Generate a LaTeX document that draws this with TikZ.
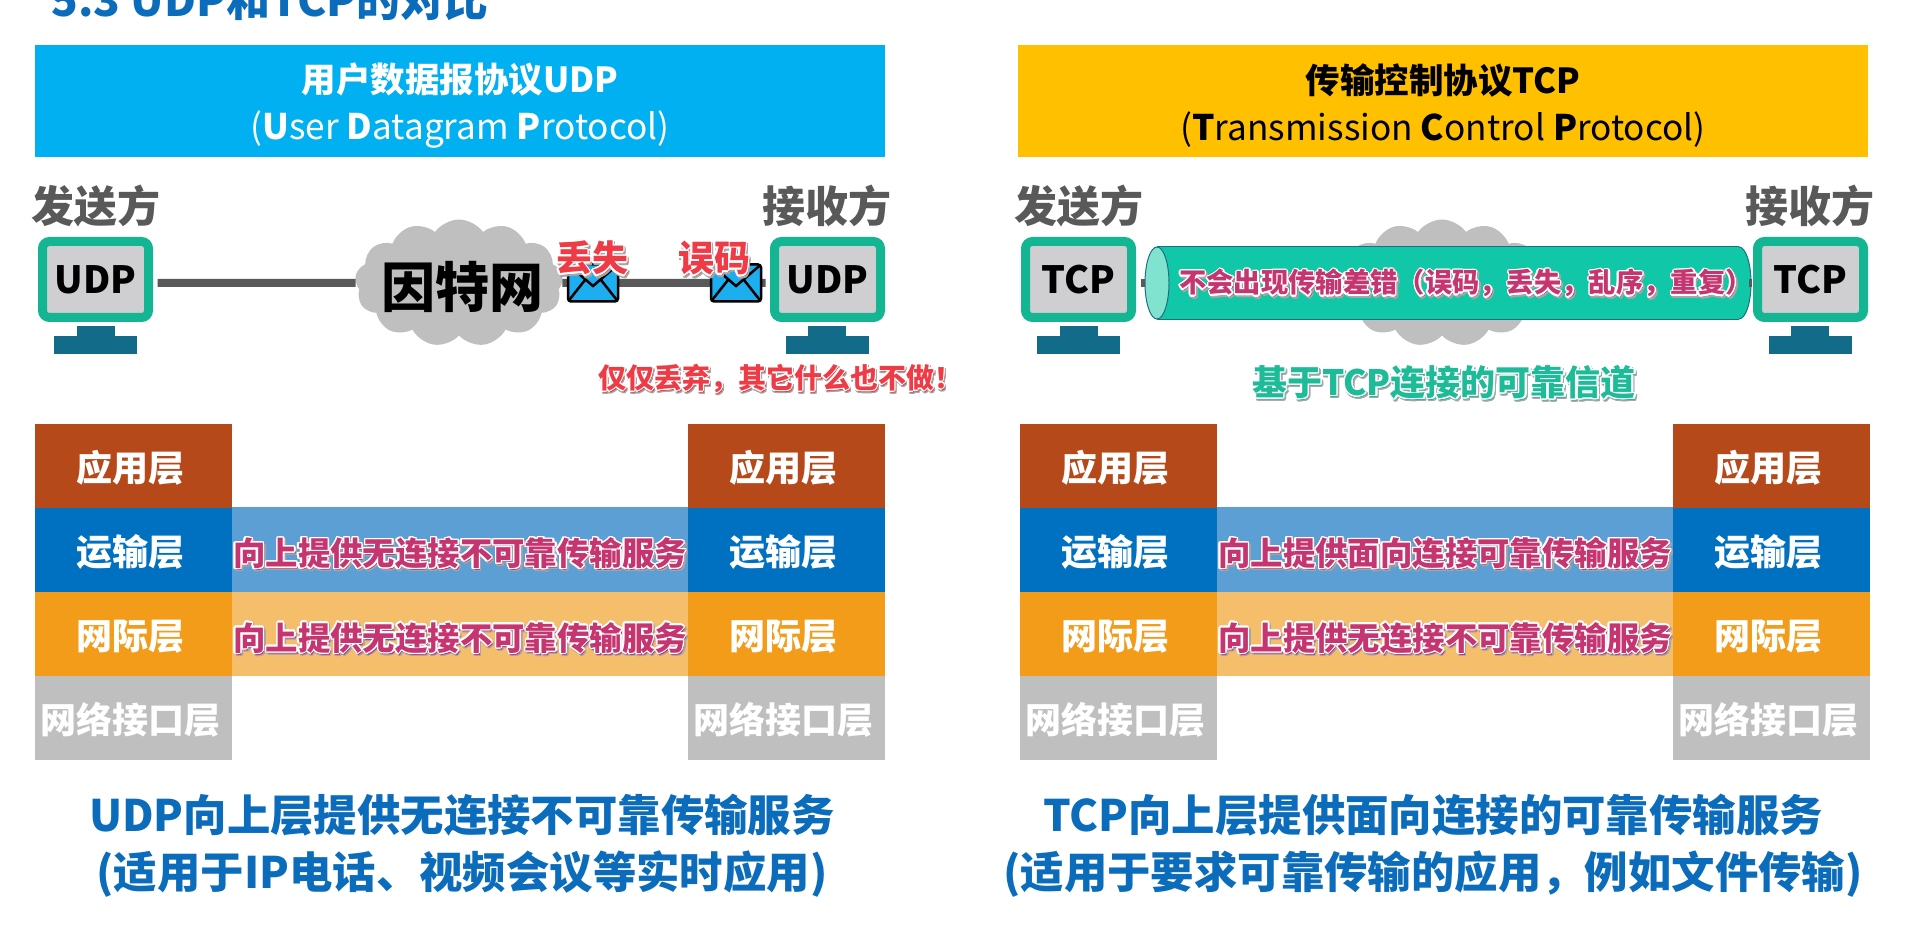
\documentclass[tikz,border=0pt]{standalone}
\usepackage{fontspec}
\setmainfont{Noto Sans CJK SC}
\usepackage[copies]{contour}
\usetikzlibrary{shapes.symbols,shapes.geometric}
\contourlength{1.4pt}
\definecolor{cudp}{HTML}{00B0F0}
\definecolor{ctcp}{HTML}{FFC000}
\definecolor{cmon}{HTML}{14B592}
\definecolor{cscr}{HTML}{CFCFD2}
\definecolor{cstand}{HTML}{126B88}
\definecolor{cwire}{HTML}{595959}
\definecolor{ccloud}{HTML}{BFBFBF}
\definecolor{cmail}{HTML}{1CAEEF}
\definecolor{cred}{HTML}{EE3B45}
\definecolor{cpink}{HTML}{C5356F}
\definecolor{cpipe}{HTML}{10C8A8}
\definecolor{cpipel}{HTML}{7FE3CF}
\definecolor{cpiped}{HTML}{1F6F7F}
\definecolor{capp}{HTML}{B5491A}
\definecolor{ctra}{HTML}{0070C0}
\definecolor{cnet}{HTML}{F39C1A}
\definecolor{clnk}{HTML}{BFBFBF}
\definecolor{cband}{HTML}{5B9FD5}
\definecolor{cbando}{HTML}{F5BE6A}
\definecolor{cfoot}{HTML}{0B6CBB}
\definecolor{cgreen}{HTML}{1DBB97}
\newcommand{\sz}[1]{\fontsize{#1}{#1}\selectfont\bfseries}
\newcommand{\halo}[1]{\rlap{\raisebox{-2pt}{\hspace{1.5pt}\contour{black!35}{#1}}}\contour{white}{#1}}

\begin{document}
\begin{tikzpicture}[
  x=1pt, y=-1pt,
  header/.style={minimum width=850pt, minimum height=112pt, inner sep=0pt, align=center,
                 text height=86pt, font=\fontsize{34.5}{47}\selectfont},
  side/.style={text=cwire, font=\sz{43}, inner sep=0pt},
  screen/.style={draw=cmon, fill=cscr, line width=9pt, rounded corners=7pt, minimum width=106pt,
                 minimum height=76pt, inner sep=0pt, font=\sz{37.5}},
  neck/.style={fill=cstand, minimum width=38pt, minimum height=12pt, inner sep=0pt},
  foot/.style={fill=cstand, minimum width=83pt, minimum height=18pt, inner sep=0pt},
  wire/.style={draw=cwire, line width=8pt},
  net/.style={cloud, cloud puffs=13, cloud puff arc=110, aspect=1.7, fill=ccloud, inner sep=0pt,
              minimum width=208pt, minimum height=127pt},
  mail/.style={draw=black, fill=cmail, line width=2.5pt, rounded corners=3pt, minimum width=50pt,
               minimum height=37pt, inner sep=0pt,
               path picture={\draw[line width=2.5pt, sharp corners]
                 (path picture bounding box.north west) -- ([yshift=-3pt]path picture bounding box.center)
                 -- (path picture bounding box.north east)
                 (path picture bounding box.south west) -- ([xshift=-8pt,yshift=3pt]path picture bounding box.center)
                 (path picture bounding box.south east) -- ([xshift=8pt,yshift=3pt]path picture bounding box.center);}},
  pipecap/.style={ellipse, draw=cpiped, line width=1pt, inner sep=0pt, minimum width=24pt, minimum height=72pt},
  layer/.style={minimum width=197pt, minimum height=84pt, inner sep=0pt, text=white, font=\sz{36},
                text height=34pt, text depth=3pt, execute at begin node=\hspace*{-7pt}},
  band/.style={minimum width=#1, minimum height=84.5pt, inner sep=0pt, text=cpink, font=\sz{32.4},
               text height=35pt, text depth=3pt},
  warn/.style={text=cred, inner sep=0pt},
  foottext/.style={text=cfoot, inner sep=0pt, align=center, font=\fontsize{43.4}{57}\selectfont\bfseries},
]
\useasboundingbox (0,0) rectangle (1920,925);

% ------------------------------------------------------------ title
\node[text=cfoot, inner sep=0pt, font=\sz{44}] (title) at (270,0) {5.3 UDP和TCP的对比};

% ------------------------------------------------------------ headers
\node[header, fill=cudp, text=white] (udphead) at (460,101) {%
  {\bfseries 用户数据报协议UDP}\\ {\fontsize{35.2}{47}\selectfont ({\bfseries U}ser {\bfseries D}atagram {\bfseries P}rotocol)}};
\node[header, fill=ctcp, text=black] (tcphead) at (1443,101) {%
  {\bfseries 传输控制协议TCP}\\ {\fontsize{35.2}{47}\selectfont ({\bfseries T}ransmission {\bfseries C}ontrol {\bfseries P}rotocol)}};

% ------------------------------------------------------------ udp channel
\node[side] (udpsend) at (96,206) {发送方};
\node[side] (udprecv) at (827,206) {接收方};
\node[net] (inet) at (459,283) {};
\node[screen] (udpa) at (95.5,279.5) {UDP};
\node[screen] (udpb) at (827.5,279.5) {UDP};
\node[neck] (udpaneck) at (96,332) {};
\node[foot] (udpafoot) at (95.5,345.5) {};
\node[neck] (udpbneck) at (827,332) {};
\node[foot] (udpbfoot) at (827.5,345.5) {};
\draw[wire] ([xshift=4.5pt,yshift=-3.5pt]udpa.east) -- (inet.west);
\draw[wire] (inet.east) -- ([xshift=-4.5pt,yshift=-3.5pt]udpb.west);
\node[text=black, inner sep=0pt, font=\sz{54}] (inettext) at (462,287) {因特网};
\node[mail] (lost) at (593,283) {};
\node[mail] (err) at (736,283) {};
\node[warn, font=\sz{36}] (lostlabel) at (592,260) {\halo{丢失}};
\node[warn, font=\sz{36}] (errlabel) at (714,260) {\halo{误码}};
\node[warn, font=\sz{28}] (drop) at (780,380) {\halo{仅仅丢弃，其它什么也不做！}};

% ------------------------------------------------------------ tcp channel
\node[side] (tcpsend) at (1079,206) {发送方};
\node[side] (tcprecv) at (1810,206) {接收方};
\node[net] (inetb) at (1442,283) {};
\node[screen] (tcpa) at (1078.5,279.5) {TCP};
\node[screen] (tcpb) at (1810.5,279.5) {TCP};
\node[neck] (tcpaneck) at (1079,332) {};
\node[foot] (tcpafoot) at (1078.5,345.5) {};
\node[neck] (tcpbneck) at (1810,332) {};
\node[foot] (tcpbfoot) at (1810.5,345.5) {};
\node[pipecap, fill=cpipe] (pipeend) at (1739,283) {};
\node[fill=cpipe, minimum width=582pt, minimum height=72pt, inner sep=0pt] (pipe) at (1448,283) {};
\draw[draw=cpiped, line width=1pt] (pipe.north west) -- (pipe.north east);
\draw[draw=cpiped, line width=1pt] (pipe.south west) -- (pipe.south east);
\node[pipecap, fill=cpipel] (pipehead) at (1157,283) {};
\draw[wire] ([xshift=4.5pt,yshift=-3.5pt]tcpa.east) -- (pipehead.west);
\draw[wire] (pipeend.east) -- ([xshift=-4.5pt,yshift=-3.5pt]tcpb.west);
\node[text=cpink, inner sep=0pt, font=\sz{27.3}] (pipetext) at (1466,285) {\halo{不会出现传输差错（误码，丢失，乱序，重复）}};
\node[text=cgreen, inner sep=0pt, font=\sz{35}] (pipename) at (1444,384) {\halo{基于TCP连接的可靠信道}};

% ------------------------------------------------------------ udp layers
\node[band=456pt, fill=cband] (udptra) at (460,549.5) {\halo{向上提供无连接不可靠传输服务}};
\node[band=456pt, fill=cbando] (udpnet) at (460,634) {\halo{向上提供无连接不可靠传输服务}};
\node[layer, fill=capp] (app1) at (133.5,465.5) {应用层};
\node[layer, fill=ctra] (tra1) at (133.5,549.5) {运输层};
\node[layer, fill=cnet] (net1) at (133.5,634) {网际层};
\node[layer, fill=clnk] (lnk1) at (133.5,717.5) {网络接口层};
\node[layer, fill=capp] (app2) at (786.5,465.5) {应用层};
\node[layer, fill=ctra] (tra2) at (786.5,549.5) {运输层};
\node[layer, fill=cnet] (net2) at (786.5,634) {网际层};
\node[layer, fill=clnk] (lnk2) at (786.5,717.5) {网络接口层};

% ------------------------------------------------------------ tcp layers
\node[band=456pt, fill=cband] (tcptra) at (1445,549.5) {\halo{向上提供面向连接可靠传输服务}};
\node[band=456pt, fill=cbando] (tcpnet) at (1445,634) {\halo{向上提供无连接不可靠传输服务}};
\node[layer, fill=capp] (app3) at (1118.5,465.5) {应用层};
\node[layer, fill=ctra] (tra3) at (1118.5,549.5) {运输层};
\node[layer, fill=cnet] (net3) at (1118.5,634) {网际层};
\node[layer, fill=clnk] (lnk3) at (1118.5,717.5) {网络接口层};
\node[layer, fill=capp] (app4) at (1771.5,465.5) {应用层};
\node[layer, fill=ctra] (tra4) at (1771.5,549.5) {运输层};
\node[layer, fill=cnet] (net4) at (1771.5,634) {网际层};
\node[layer, fill=clnk] (lnk4) at (1771.5,717.5) {网络接口层};

% ------------------------------------------------------------ summaries
\node[foottext] (udpfoot) at (462,846) {UDP向上层提供无连接不可靠传输服务\\(适用于IP电话、视频会议等实时应用)};
\node[foottext] (tcpfoot) at (1433,846) {TCP向上层提供面向连接的可靠传输服务\\(适用于要求可靠传输的应用，例如文件传输)};
\end{tikzpicture}
\end{document}
